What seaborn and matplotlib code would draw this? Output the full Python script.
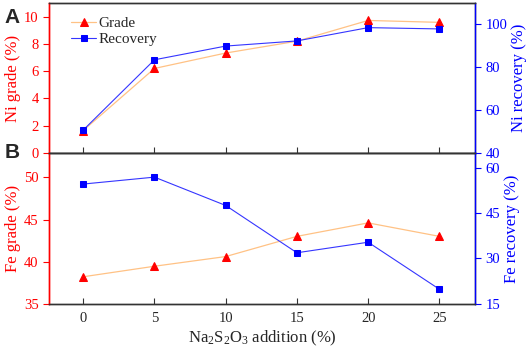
import numpy as np
import pandas as pd
import seaborn as sns
import matplotlib.pyplot as plt

# Na2S2O3 dosage (%)
addition = [0, 5, 10, 15, 20, 25]
ni_grade = [1.65, 6.2, 7.33, 8.2, 9.72, 9.58]
ni_recovery = [50.7, 83.5, 89.9, 92.3, 98.5, 97.9]
fe_grade = [38.2, 39.45, 40.6, 43.0, 44.6, 43.0]
fe_recovery = [54.7, 57.0, 47.6, 31.9, 35.4, 19.8]

grade_line = "#FFC285"
grade_mark = "#FF0000"
rec_line = "#3535FF"
rec_col = "#0000FF"

sns.set_style("ticks")
plt.rcParams['font.family'] = ['Liberation Serif', 'DejaVu Serif']
plt.rcParams['mathtext.fontset'] = 'custom'
plt.rcParams['mathtext.rm'] = 'Liberation Serif'
plt.rcParams['mathtext.it'] = 'Liberation Serif'

df = pd.DataFrame({"addition": addition, "ni_grade": ni_grade, "ni_recovery": ni_recovery,
                   "fe_grade": fe_grade, "fe_recovery": fe_recovery})

fig = plt.figure(figsize=(5.26, 3.52), dpi=100)
axA = fig.add_axes([0.0932, 0.5653, 0.8098, 0.4262])
axB = fig.add_axes([0.0932, 0.1372, 0.8098, 0.4281])


def style_pair(ax, ax2, show_x):
    ax.set_xlim(-2.4, 27.5)
    ax.set_xticks(addition)
    ax.tick_params(axis='x', direction='in', length=4, color='#333333', labelsize=10.5,
                   labelbottom=show_x, pad=6)
    ax.tick_params(axis='y', direction='out', length=4, colors=grade_mark, labelsize=10.5)
    ax2.tick_params(axis='y', direction='out', length=4, colors=rec_col, labelsize=10.5)
    ax.spines['left'].set_color(grade_mark)
    ax2.spines['left'].set_color(grade_mark)
    ax2.spines['right'].set_color(rec_col)
    for a in (ax, ax2):
        for s in ('top', 'bottom'):
            a.spines[s].set_color('#333333')
        for s in a.spines.values():
            s.set_linewidth(1.0)
        a.spines['right'].set_visible(True)
        a.spines['top'].set_visible(True)
    ax.set_xlabel("")


# panel A
sns.lineplot(data=df, x="addition", y="ni_grade", ax=axA, color=grade_line, lw=0.9,
             marker="^", markersize=5.5, markerfacecolor=grade_mark, markeredgecolor=grade_mark,
             label="Grade", legend=False)
axA2 = axA.twinx()
sns.lineplot(data=df, x="addition", y="ni_recovery", ax=axA2, color=rec_line, lw=0.8,
             marker="s", markersize=4.3, markerfacecolor=rec_col, markeredgecolor=rec_col,
             label="Recovery", legend=False)
axA.set_ylim(0, 11)
axA.set_yticks([0, 2, 4, 6, 8, 10])
axA2.set_ylim(40, 110)
axA2.set_yticks([40, 60, 80, 100])
style_pair(axA, axA2, False)
axA.set_ylabel("Ni grade (%)", color=grade_mark, fontsize=12, labelpad=2)
axA2.set_ylabel("Ni recovery (%)", color=rec_col, fontsize=12, labelpad=3)
h1, l1 = axA.get_legend_handles_labels()
h2, l2 = axA2.get_legend_handles_labels()
axA.legend(h1 + h2, l1 + l2, loc="upper left", frameon=False, fontsize=11,
           handlelength=1.6, handletextpad=0.2, labelspacing=0.15,
           bbox_to_anchor=(0.02, 1.0))

# panel B
sns.lineplot(data=df, x="addition", y="fe_grade", ax=axB, color=grade_line, lw=0.9,
             marker="^", markersize=5.5, markerfacecolor=grade_mark, markeredgecolor=grade_mark,
             legend=False)
axB2 = axB.twinx()
sns.lineplot(data=df, x="addition", y="fe_recovery", ax=axB2, color=rec_line, lw=0.8,
             marker="s", markersize=4.3, markerfacecolor=rec_col, markeredgecolor=rec_col,
             legend=False)
axB.set_ylim(35, 52.9)
axB.set_yticks([35, 40, 45, 50])
axB2.set_ylim(15, 65)
axB2.set_yticks([15, 30, 45, 60])
style_pair(axB, axB2, True)
axB.set_ylabel("Fe grade (%)", color=grade_mark, fontsize=12, labelpad=2)
axB2.set_ylabel("Fe recovery (%)", color=rec_col, fontsize=12, labelpad=3)
axB.set_xlabel(r"Na$_2$S$_2$O$_3$ addition (%)", fontsize=12, labelpad=3)

fig.text(0.008, 0.978, "A", fontsize=15, fontweight="bold", family="Liberation Sans", va="top")
fig.text(0.008, 0.595, "B", fontsize=15, fontweight="bold", family="Liberation Sans", va="top")

fig.savefig("out.png", dpi=100)
